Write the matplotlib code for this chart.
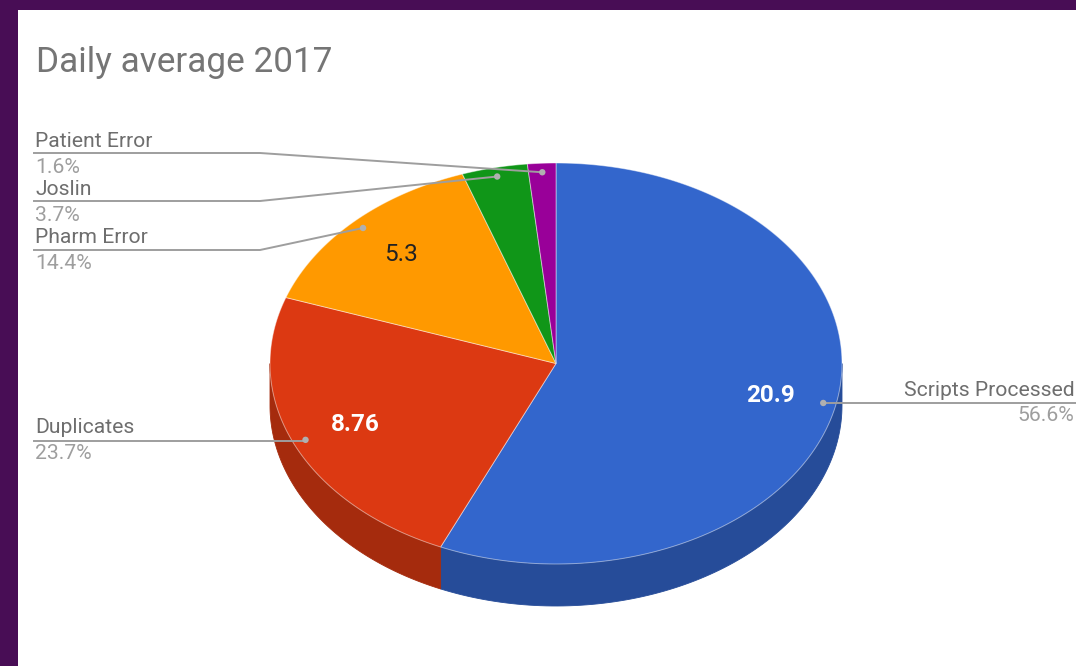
import numpy as np
import matplotlib
matplotlib.use("Agg")
import matplotlib.pyplot as plt
from matplotlib.patches import Polygon, Rectangle, Circle

plt.rcParams["font.family"] = ["Roboto", "DejaVu Sans"]

# chart data (clockwise from 12 o'clock)
labels = ["Scripts Processed", "Duplicates", "Pharm Error", "Joslin", "Patient Error"]
values = [20.9, 8.76, 5.3, 1.37, 0.59]
slice_text = ["20.9", "8.76", "5.3", "", ""]
top_colors = ["#3366cc", "#dc3912", "#ff9900", "#109618", "#990099"]
side_colors = ["#264c99", "#a52b0d", "#bf7300", "#0c710e", "#730073"]
text_colors = ["white", "white", "#222222", "white", "white"]

# pie geometry in pixels
cx, cy, rx, ry, depth = 556, 363.5, 286, 200.5, 42


def ell(theta_deg, f=1.0, dy=0.0):
    t = np.radians(theta_deg)
    return cx + rx * f * np.sin(t), cy - ry * f * np.cos(t) + dy


fig = plt.figure(figsize=(10.76, 6.66), dpi=100)
fig.patch.set_facecolor("#480d55")
ax = fig.add_axes([0, 0, 1, 1])
ax.set_xlim(0, 1076)
ax.set_ylim(666, 0)
ax.axis("off")
ax.add_patch(Rectangle((18, 10), 1100, 700, facecolor="white", edgecolor="none"))

ax.text(36, 72, "Daily average 2017", fontsize=25.3, color="#757575", va="baseline")

total = sum(values)
pct = [v / total * 100 for v in values]
bounds = np.concatenate([[0], np.cumsum(values) / total * 360])

# side walls (front half only)
for i in range(len(values)):
    a, b = max(bounds[i], 90), min(bounds[i + 1], 270)
    if a >= b:
        continue
    th = np.linspace(a, b, 100)
    x, y = ell(th)
    xs = np.concatenate([x, x[::-1]])
    ys = np.concatenate([y, (y + depth)[::-1]])
    ax.add_patch(Polygon(np.column_stack([xs, ys]), closed=True,
                         facecolor=side_colors[i], edgecolor=side_colors[i], lw=0.6))

# top faces
for i in range(len(values)):
    th = np.linspace(bounds[i], bounds[i + 1], 200)
    x, y = ell(th)
    xs = np.concatenate([[cx], x])
    ys = np.concatenate([[cy], y])
    ax.add_patch(Polygon(np.column_stack([xs, ys]), closed=True,
                         facecolor=top_colors[i], edgecolor=(1, 1, 1, 0.45), lw=0.7))

# values inside slices
for i in range(len(values)):
    if not slice_text[i]:
        continue
    mid = (bounds[i] + bounds[i + 1]) / 2
    x, y = ell(mid, 0.765)
    ax.text(x, y, slice_text[i], fontsize=17.5, color=text_colors[i],
            weight="bold" if text_colors[i] == "white" else "normal",
            ha="center", va="center")

# outside labels: (label baseline, line y, side)
label_pos = {
    "Scripts Processed": (396, 403, "right"),
    "Duplicates": (433, 441, "left"),
    "Pharm Error": (243, 250, "left"),
    "Joslin": (195, 201, "left"),
    "Patient Error": (147, 153, "left"),
}
line_col = "#9e9e9e"
fs = 15.2
for i, name in enumerate(labels):
    mid = (bounds[i] + bounds[i + 1]) / 2
    dx, dy = ell(mid, 0.955)
    base, ly, side = label_pos[name]
    if side == "right":
        ax.plot([dx, 1080], [ly, ly], color=line_col, lw=1.4)
        ax.text(1075, base, name, fontsize=fs, color="#6e6e6e", ha="right", va="baseline")
        ax.text(1074, base + 25, f"{pct[i]:.1f}%", fontsize=fs, color="#9e9e9e",
                ha="right", va="baseline")
    else:
        if abs(dy - ly) < 4:
            ax.plot([34, dx], [ly, ly], color=line_col, lw=1.4)
        else:
            ax.plot([34, 260, dx], [ly, ly, dy], color=line_col, lw=1.4)
        ax.text(35, base, name, fontsize=fs, color="#6e6e6e", ha="left", va="baseline")
        ax.text(35, base + 26, f"{pct[i]:.1f}%", fontsize=fs, color="#9e9e9e",
                ha="left", va="baseline")
    ax.add_patch(Circle((dx, dy), 3.2, facecolor="#b0b0b0", edgecolor="none", zorder=5))

fig.savefig("out.png", dpi=100, facecolor=fig.get_facecolor())
